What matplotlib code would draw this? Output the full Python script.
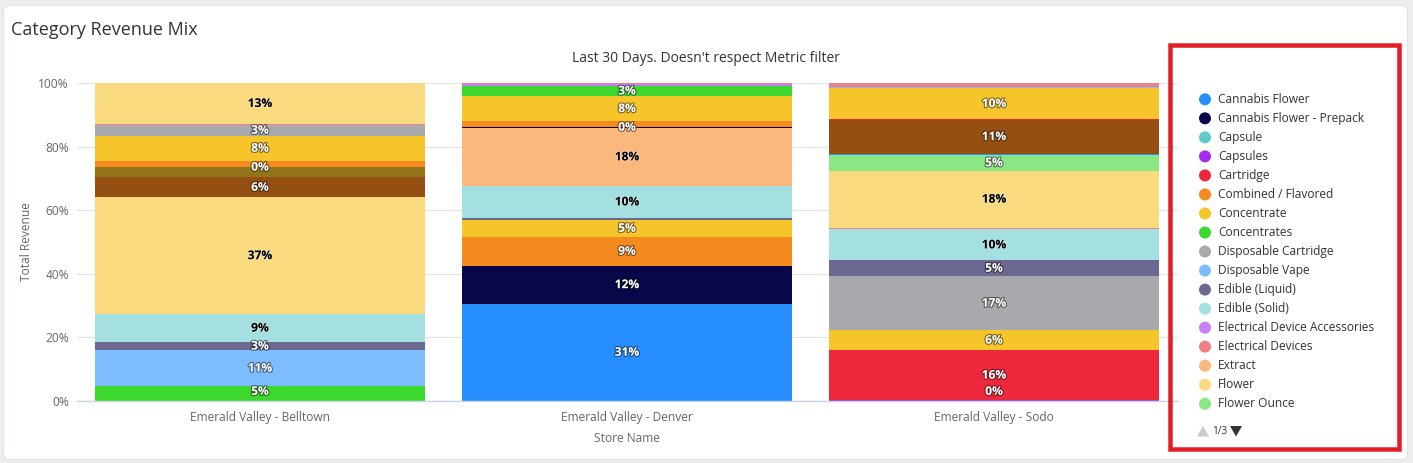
import matplotlib
matplotlib.use("Agg")
import matplotlib.pyplot as plt
from matplotlib.patches import Rectangle, FancyBboxPatch, Circle, Polygon
from matplotlib.transforms import Bbox, TransformedBbox
import matplotlib.patheffects as pe
from matplotlib.ticker import FuncFormatter
import numpy as np

# ---------------- data ----------------
stores = ["Emerald Valley - Belltown", "Emerald Valley - Denver", "Emerald Valley - Sodo"]

categories = [
    "Cannabis Flower", "Cannabis Flower - Prepack", "Capsule", "Capsules", "Cartridge",
    "Combined / Flavored", "Concentrate", "Concentrates", "Disposable Cartridge",
    "Disposable Vape", "Edible (Liquid)", "Edible (Solid)", "Electrical Device Accessories",
    "Electrical Devices", "Extract", "Flower", "Flower Ounce", "Gear", "Hash",
    "Infused Flower", "Infused Pre-Roll", "Kief", "Live Resin", "Moonrock", "Pre-Roll",
    "Pre-Roll Pack", "Rosin", "Shatter", "Tincture", "Topical", "Vape Cartridge",
    "Vape Pen", "Wax", "Wellness", "Whole Flower",
]

# share of revenue (%) per category, in category order
belltown = [0, 0, 0, 0, 0, 0, 0, 4.7, 0, 11.3, 2.6, 8.8, 0, 0, 0, 36.8, 0, 0, 0,
            0, 6.3, 3.1, 0.2, 0, 1.9, 7.9, 0, 3.4, 0, 0, 0, 0, 0.3, 0, 12.9]
denver = [30.6, 11.9, 0, 0, 0, 9.1, 5.3, 0, 0, 0, 0.6, 10.1, 0, 0, 18.2, 0, 0, 0, 0,
          0.4, 0, 0, 0, 0, 1.7, 7.9, 3.2, 0, 0, 0, 0, 0.5, 0.4, 0, 0]
sodo = [0, 0, 0, 0.3, 15.7, 0, 6.3, 0, 17.0, 0, 5.0, 9.7, 0, 0.6, 0, 17.9, 5.0, 0, 0.4,
        0, 10.6, 0, 0, 0.3, 0, 9.6, 0, 0, 0.5, 0, 0, 0, 1.2, 0, 0]

# ---------------- style ----------------
colors = [
    "#268EFF", "#07074A", "#5FCACA", "#A52BF0", "#EE283C", "#F58A1F", "#F5C52A",
    "#3CD82E", "#A8A9AC", "#7DBCFF", "#6B6992", "#A5E0E0", "#C87FF5", "#F08088",
    "#FAB87C", "#F9DA7E", "#8BE783", "#DDDDDD", "#268EFF", "#07074A", "#954F13",
    "#937419", "#A52BF0", "#EE283C", "#F58A1F", "#F5C52A", "#3CD82E", "#A8A9AC",
    "#7DBCFF", "#6B6992", "#A5E0E0", "#C87FF5", "#F08088", "#FAB87C", "#F9DA7E",
]
label_min = 2.5
hidden_labels = {(0, "Kief")}
forced_labels = {(0, "Live Resin"), (1, "Infused Flower"), (2, "Capsules")}

W, H = 1413, 463
plt.rcParams['font.family'] = ['Open Sans', 'DejaVu Sans']
PT = 0.72  # px -> pt at 100 dpi

fig = plt.figure(figsize=(W / 100, H / 100), dpi=100)
fig.patch.set_facecolor('#EDEEF0')


def px_axes(z):
    a = fig.add_axes([0, 0, 1, 1], zorder=z)
    a.set_xlim(0, W)
    a.set_ylim(H, 0)
    a.axis('off')
    a.patch.set_alpha(0)
    return a


bg = px_axes(0)
bg.add_patch(FancyBboxPatch((3.5, 5.5), 1404, 454,
                            boxstyle="round,pad=0,rounding_size=6",
                            fc='white', ec='#E2E3E6', lw=0.8))
bg.text(11, 30, "Category Revenue Mix", fontsize=18 * PT, color='#333333',
        ha='left', va='center')
bg.text(706, 59, "Last 30 Days. Doesn't respect Metric filter", fontsize=13.9 * PT,
        color='#333333', ha='center', va='center')

# ---------------- main axes ----------------
ax = fig.add_axes([76.5 / W, (H - 401) / H, 1101 / W, 318 / H], zorder=1)
ax.patch.set_alpha(0)

vals = np.array([belltown, denver, sodo], dtype=float)
pct = vals / vals.sum(axis=1, keepdims=True) * 100
bottoms = np.cumsum(pct, axis=1) - pct
x = np.arange(len(stores))

for j, cat in enumerate(categories):
    ax.bar(x, pct[:, j], bottom=bottoms[:, j], width=0.9, color=colors[j],
           linewidth=0, label=cat, zorder=2)


def lum(hexc):
    r, g, b = (int(hexc[k:k + 2], 16) for k in (1, 3, 5))
    return 0.299 * r + 0.587 * g + 0.114 * b


for i in range(len(stores)):
    for j, cat in enumerate(categories):
        p = pct[i, j]
        if p <= 0:
            continue
        show = (p >= label_min and (i, cat) not in hidden_labels) or (i, cat) in forced_labels
        if not show:
            continue
        yc = max(bottoms[i, j] + p / 2, 3.0)
        dark = lum(colors[j]) > 194
        if dark:
            ax.text(x[i], yc, f"{p:.0f}%", ha='center', va='center', fontsize=12 * PT,
                    fontweight='bold', color='#000000', zorder=5,
                    path_effects=[pe.withStroke(linewidth=1.0, foreground='#FFFFFF80')])
        else:
            ax.text(x[i], yc, f"{p:.0f}%", ha='center', va='center', fontsize=12 * PT,
                    fontweight='bold', color='#FFFFFF', zorder=5,
                    path_effects=[pe.withStroke(linewidth=1.6, foreground='#00000080')])

ax.set_xlim(-0.5, 2.5)
ax.set_ylim(0, 100)
ax.set_yticks(np.arange(0, 101, 20))
ax.yaxis.set_major_formatter(FuncFormatter(lambda v, _: f"{v:.0f}%"))
ax.set_xticks(x)
ax.set_xticklabels(stores)
ax.yaxis.grid(True, color='#E6E6E6', lw=1)
ax.set_axisbelow(True)
for s in ('left', 'right', 'top'):
    ax.spines[s].set_visible(False)
ax.spines['bottom'].set_color('#CCD6EB')
ax.spines['bottom'].set_linewidth(1)
ax.spines['bottom'].set_zorder(3)
ax.tick_params(axis='y', length=0, pad=5.4, labelsize=12 * PT, labelcolor='#666666')
ax.tick_params(axis='x', length=0, pad=7.5, labelsize=12 * PT, labelcolor='#666666')
ax.set_xlabel("Store Name", fontsize=12 * PT, color='#666666')
ax.xaxis.set_label_coords(0.5, (401 - 438) / 318)
ax.xaxis.label.set_va('center')
ax.set_ylabel("Total Revenue", fontsize=12 * PT, color='#666666')
ax.yaxis.set_label_coords((27 - 76.5) / 1101, 0.5)
ax.yaxis.label.set_va('center')

# ---------------- legend (page 1/3) ----------------
fg = px_axes(3)
row0, step = 99.3, 19.03
clip_box = TransformedBbox(Bbox([[1175, 80], [1395, 417]]), fg.transData)
for k in range(18):
    yy = row0 + step * k
    c = Circle((1205, yy), 6, fc=colors[k], ec='none')
    fg.add_patch(c)
    c.set_clip_box(clip_box)
    if k < 17:
        fg.text(1218, yy, categories[k], fontsize=12 * PT, color='#333333',
                ha='left', va='center')

fg.add_patch(Polygon([(1197, 436.5), (1209, 436.5), (1203, 426)], closed=True,
                     fc='#CCCCCC', ec='none'))
fg.text(1212, 431.5, "1/3", fontsize=10 * PT, color='#333333', ha='left', va='center')
fg.add_patch(Polygon([(1230, 426), (1242, 426), (1236, 436.5)], closed=True,
                     fc='#333333', ec='none'))

# red highlight frame
fg.add_patch(Rectangle((1169.5, 44.5), 1398.5 - 1169.5, 449 - 44.5, fill=False,
                       ec='#E41E26', lw=4.5 * PT))

fig.savefig("out.png", dpi=100, facecolor=fig.get_facecolor())
